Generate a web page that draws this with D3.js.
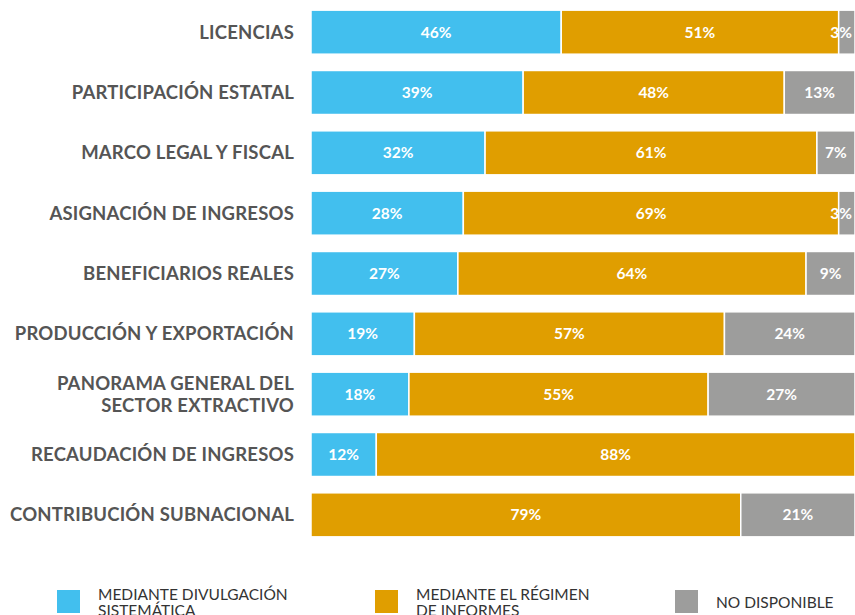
<!DOCTYPE html>
<html>
<head>
<meta charset="utf-8">
<script src="https://cdn.jsdelivr.net/npm/d3@7"></script>
<style>
  body { margin: 0; background: #fff; }
  svg { display: block; }
</style>
</head>
<body>
<svg width="855" height="615"></svg>
<script>
const categories = [
  'LICENCIAS',
  'PARTICIPACIÓN ESTATAL',
  'MARCO LEGAL Y FISCAL',
  'ASIGNACIÓN DE INGRESOS',
  'BENEFICIARIOS REALES',
  'PRODUCCIÓN Y EXPORTACIÓN',
  'PANORAMA GENERAL DEL\nSECTOR EXTRACTIVO',
  'RECAUDACIÓN DE INGRESOS',
  'CONTRIBUCIÓN SUBNACIONAL',
];
const sistematica = [46, 39, 32, 28, 27, 19, 18, 12, 0];
const informes = [51, 48, 61, 69, 64, 57, 55, 88, 79];
const noDisponible = [3, 13, 7, 3, 9, 24, 27, 0, 21];

const seriesKeys = ['sistematica', 'informes', 'noDisponible'];
const seriesColors = ['#42bfee', '#e09e00', '#9d9d9c'];
const legendLabels = [
  'MEDIANTE DIVULGACIÓN\nSISTEMÁTICA',
  'MEDIANTE EL RÉGIMEN\nDE INFORMES',
  'NO DISPONIBLE',
];

const rows = categories.map((c, i) => ({
  cat: c,
  sistematica: sistematica[i],
  informes: informes[i],
  noDisponible: noDisponible[i],
}));

const svg = d3.select('svg');

const x = d3.scaleLinear().domain([0, 100]).range([311, 855]);
const y = d3.scaleBand()
  .domain(categories)
  .range([2, 545])
  .paddingInner(0.27)
  .paddingOuter(0.135);
const color = d3.scaleOrdinal().domain(seriesKeys).range(seriesColors);

const stacked = d3.stack().keys(seriesKeys)(rows);

// bars
const layer = svg.append('g')
  .selectAll('g')
  .data(stacked)
  .join('g')
  .attr('fill', d => color(d.key));

layer.selectAll('rect')
  .data(d => d.filter(s => s[1] - s[0] > 0))
  .join('rect')
  .attr('x', d => x(d[0]))
  .attr('y', d => y(d.data.cat))
  .attr('width', d => x(d[1]) - x(d[0]))
  .attr('height', y.bandwidth())
  .attr('stroke', '#fff')
  .attr('stroke-width', 1.5);

// value labels (keep small ones inside the picture)
layer.selectAll('text')
  .data(d => d.filter(s => s[1] - s[0] > 0))
  .join('text')
  .attr('x', d => Math.min((x(d[0]) + x(d[1])) / 2, 841))
  .attr('y', d => y(d.data.cat) + y.bandwidth() / 2)
  .attr('dy', '0.36em')
  .attr('text-anchor', 'middle')
  .attr('fill', '#fff')
  .attr('font-family', 'Lato, sans-serif')
  .attr('font-weight', 'bold')
  .attr('font-size', 15.5)
  .text(d => (d[1] - d[0]) + '%');

// category labels
const catLabels = svg.append('g')
  .selectAll('text')
  .data(categories)
  .join('text')
  .attr('text-anchor', 'end')
  .attr('fill', '#555')
  .attr('font-family', 'Lato, sans-serif')
  .attr('font-weight', 'bold')
  .attr('font-size', 18.5)
  .attr('letter-spacing', 0.2);

catLabels.each(function(d) {
  const lines = d.split('\n');
  const cy = y(d) + y.bandwidth() / 2;
  const lh = 22;
  d3.select(this).selectAll('tspan')
    .data(lines)
    .join('tspan')
    .attr('x', 294)
    .attr('y', (l, i) => cy + (i - (lines.length - 1) / 2) * lh)
    .attr('dy', '0.36em')
    .text(l => l);
});

// legend
const legendX = [57, 375, 675];
const legend = svg.append('g')
  .selectAll('g')
  .data(seriesKeys)
  .join('g')
  .attr('transform', (d, i) => `translate(${legendX[i]},590)`);

legend.append('rect')
  .attr('width', 23)
  .attr('height', 23)
  .attr('fill', d => color(d));

legend.append('text')
  .attr('fill', '#333')
  .attr('font-family', 'Lato, sans-serif')
  .attr('font-size', 15.5)
  .each(function(d, i) {
    const lines = legendLabels[i].split('\n');
    d3.select(this).selectAll('tspan')
      .data(lines)
      .join('tspan')
      .attr('x', 41)
      .attr('y', (l, j) => lines.length === 1 ? 18 : 10 + j * 16)
      .text(l => l);
  });
</script>
</body>
</html>
